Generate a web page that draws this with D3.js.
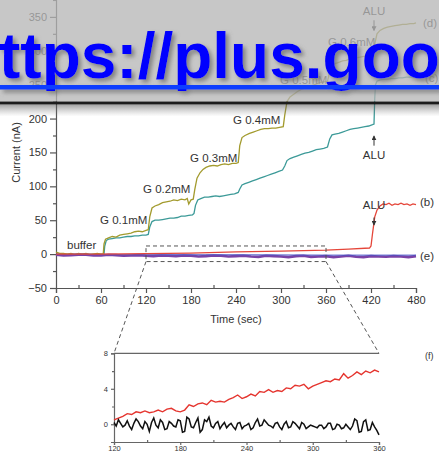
<!DOCTYPE html>
<html lang="en">
<head>
<meta charset="utf-8">
<title>Current vs time</title>
<script src="https://d3js.org/d3.v7.js"></script>
<style>
  body { margin: 0; background: #fff; }
  svg text { font-family: "Liberation Sans", Arial, sans-serif; fill: #333; }
</style>
</head>
<body>
<div id="chart"></div>
<script>
// ---- data ----
// main panel, time (sec) / current (nA)
const olive = [[0,3],[5,1],[10,1],[15,0],[20,1],[25,-1],[30,1],[35,0],[40,1],[45,-1],[50,0],[55,1],[60,0],[63,0],[64,15],[66,22],[70,24],[75,26],[80,25],[85,28],[90,29],[95,30],[100,31],[105,33],[110,34],[115,33],[120,35],[123,36],[125,55],[128,68],[132,71],[137,73],[142,76],[147,77],[152,78],[157,80],[162,79],[167,81],[172,80],[175,82],[177,74],[180,80],[183,81],[185,95],[188,112],[192,120],[196,125],[200,128],[205,130],[210,131],[215,130],[220,132],[225,133],[230,132],[235,134],[240,134],[243,135],[245,160],[248,172],[252,175],[258,178],[263,180],[268,182],[273,184],[278,185],[283,185],[288,186],[293,186],[298,187],[303,188],[305,205],[308,225],[312,232],[317,236],[322,240],[327,243],[332,245],[337,247],[342,249],[347,251],[352,253],[357,254],[362,255],[365,270],[368,278],[372,281],[377,283],[382,285],[387,286],[392,288],[397,289],[402,290],[407,291],[412,292],[417,292],[422,293],[425,310],[428,325],[432,330],[437,333],[442,335],[447,336],[452,337],[457,338],[462,339],[467,339],[472,340],[477,340],[480,341]];
const teal = [[0,0],[20,0],[40,0],[60,0],[64,0],[65,12],[67,20],[70,22],[75,23],[80,24],[85,24],[90,25],[95,26],[100,26],[105,27],[110,27],[115,28],[120,28],[123,29],[125,40],[128,48],[132,50],[137,50],[142,51],[147,52],[152,53],[157,53],[162,54],[167,56],[172,56],[177,57],[182,58],[184,60],[186,72],[189,80],[193,82],[198,84],[203,84],[208,85],[213,86],[218,85],[223,86],[228,87],[233,88],[238,89],[243,91],[245,96],[248,102],[252,104],[257,106],[262,108],[267,110],[272,112],[277,114],[282,116],[287,118],[292,120],[297,122],[302,124],[305,130],[308,138],[312,141],[317,143],[322,145],[327,147],[332,149],[337,150],[342,152],[347,154],[352,155],[357,156],[362,158],[365,170],[368,176],[372,177],[377,178],[382,180],[387,182],[392,184],[397,185],[402,186],[407,187],[412,188],[417,189],[422,191],[424,192],[425,230],[426,250],[428,255],[432,257],[437,258],[442,258],[447,259],[452,259],[457,260],[462,260],[467,261],[472,261],[477,261],[480,262]];
const red = [[0,0],[60,0],[120,0.6],[180,1.5],[240,3.3],[300,4.5],[360,6],[390,7.5],[418,9],[420,12],[422,30],[425,55],[428,65],[432,71],[436,74],[440,73],[444,75],[448,72],[452,74],[456,73],[460,75],[464,73],[468,74],[472,72],[476,74],[480,73]];
const purple = [[0,-1],[10,-2],[20,-1.5],[30,-1],[40,-1],[50,-2],[60,-2],[70,-1],[80,-1.5],[90,-2.5],[100,-2],[110,-1.5],[120,-2.5],[130,-3],[140,-2],[150,-2.5],[160,-3],[170,-2],[180,-2.5],[190,-3.5],[200,-3],[210,-2],[220,-2.5],[230,-3.5],[240,-3],[250,-2.5],[260,-3.5],[270,-4],[280,-2.5],[290,-3],[300,-3.5],[310,-4.5],[320,-3],[330,-2.5],[340,-4],[350,-3.5],[360,-3],[370,-4.5],[380,-3.5],[390,-2.5],[400,-4],[410,-4.5],[420,-3],[430,-3.5],[440,-4],[450,-3],[460,-3.5],[470,-4.5],[480,-3]];
const blueLine = [[0,-0.5],[120,-1],[240,-1],[360,-1.5],[480,-1.5]];

// inset (f), 120-360 sec
const insetRedT = d3.range(120, 361, 4);
const insetRed = [0.5,0.7,0.9,1.2,1.1,1.4,1.3,1.5,1.3,1.4,1.6,1.4,1.7,1.8,1.5,1.4,1.6,2.2,2.0,2.3,2.4,2.2,2.7,2.5,2.6,2.5,2.8,3.0,3.3,2.9,3.1,3.4,3.2,3.7,3.6,3.9,3.6,3.8,3.7,4.1,4.0,4.4,4.3,4.5,4.0,4.3,4.5,4.7,4.9,4.8,5.1,5.0,5.7,5.2,5.5,5.9,5.6,6.0,5.8,6.1,5.9];
const insetBlackT = d3.range(120, 361, 2);
const insetBlack = [0.2,-0.2,0.5,0.1,-0.3,-0.1,0.4,-0.2,-0.6,0.1,0.6,0.3,-0.2,-0.5,0.3,0.0,-0.8,0.2,0.7,-0.1,-0.4,0.5,0.2,-0.6,-0.5,0.3,0.1,-0.2,-0.3,0.5,0.4,-0.9,-0.8,0.8,0.6,-0.3,-0.4,0.2,0.7,-0.9,-0.6,0.5,0.3,0.8,-0.2,-0.4,0.1,0.3,-0.5,-0.1,0.2,-0.4,-0.1,0.1,-0.3,-0.6,0.1,0.2,-0.5,-0.2,-0.1,0.1,-0.6,-0.4,0.2,0.6,-0.2,-0.1,0.5,0.2,-0.1,-0.2,-0.4,0.1,0.2,-0.3,-0.6,0.0,0.3,-0.4,-0.3,0.3,0.1,-0.2,-0.5,0.2,0.0,-0.5,-0.3,-0.1,-0.2,-0.3,-0.4,-0.1,-0.1,-0.5,-0.3,0.1,0.1,-0.6,-0.5,0.0,-0.1,-0.5,-0.4,0.0,-0.3,-0.6,-0.2,0.6,0.4,-0.9,-0.8,0.3,0.5,-0.7,-0.6,0.2,-0.3,-0.7,-1.2];

const xTicks = [0, 60, 120, 180, 240, 300, 360, 420, 480];
const yTicks = [-50, 0, 50, 100, 150, 200, 250, 300, 350];
const insetXTicks = [120, 180, 240, 300, 360];
const insetYTicks = [0, 4, 8];

// annotations: text, time, current (baseline)
const labels = [
  ["buffer", 14.7, 7.4, "start"],
  ["G 0.1mM", 58.7, 44, "start"],
  ["G 0.2mM", 116, 90, "start"],
  ["G 0.3mM", 178.7, 135.7, "start"],
  ["G 0.4mM", 236, 191.7, "start"],
  ["G 0.5mM", 298.7, 250.7, "start"],
  ["G 0.6mM", 362.7, 306.8, "start"],
  ["ALU", 424, 352.5, "middle"],
  ["ALU", 424, 140, "middle"],
  ["ALU", 424, 66.4, "middle"],
  ["(d)", 489.3, 334.8, "start"],
  ["(c)", 492, 253.7, "start"],
  ["(b)", 485.3, 70.8, "start"],
  ["(e)", 485.3, -8.8, "start"]
];
// arrows: time, from, to (current)
const arrows = [[424, 345, 330], [424, 160, 174], [424, 54, 43]];
// zoom box
const boxT = [120, 360], boxV = [-11, 12];

// ---- layout ----
const W = 439, H = 454;
const svg = d3.select("#chart").append("svg")
  .attr("width", W).attr("height", H);

const x = d3.scaleLinear().domain([0, 480]).range([56, 416]);
const y = d3.scaleLinear().domain([-50, 400]).range([288, -17]);

// axes
svg.append("g").attr("transform", `translate(0,${y(-50)})`)
  .call(d3.axisBottom(x).tickValues(xTicks).tickSize(5).tickPadding(3));
svg.append("g").attr("transform", `translate(0,${y(-50)})`)
  .call(d3.axisBottom(x).tickValues(d3.range(30, 480, 60)).tickSize(-3).tickFormat(""))
  .select(".domain").remove();
svg.append("g").attr("transform", `translate(${x(0)},0)`)
  .call(d3.axisLeft(y).tickValues(yTicks).tickSize(6).tickPadding(3));
svg.append("g").attr("transform", `translate(${x(0)},0)`)
  .call(d3.axisLeft(y).tickValues(d3.range(-25, 400, 50)).tickSize(3).tickFormat(""))
  .select(".domain").remove();
svg.selectAll(".domain, .tick line").attr("stroke", "#555").attr("stroke-width", 1.2);
svg.selectAll(".tick text").style("font-size", "11px").attr("fill", "#333");

svg.append("text").attr("x", x(240)).attr("y", 323).attr("text-anchor", "middle")
  .style("font-size", "11px").text("Time (sec)");
svg.append("text").attr("transform", `translate(20,${y(150)}) rotate(-90)`)
  .attr("text-anchor", "middle").style("font-size", "11px").text("Current (nA)");

const line = d3.line().x(d => x(d[0])).y(d => y(d[1]));

svg.append("path").datum(teal).attr("d", line).attr("fill", "none")
  .attr("stroke", "#3c9a98").attr("stroke-width", 1.3);
svg.append("path").datum(olive).attr("d", line).attr("fill", "none")
  .attr("stroke", "#a39b2e").attr("stroke-width", 1.3);
svg.append("path").datum(purple).attr("d", line).attr("fill", "none")
  .attr("stroke", "#7a42a6").attr("stroke-width", 2.6);
svg.append("path").datum(blueLine).attr("d", line).attr("fill", "none")
  .attr("stroke", "#4a55c8").attr("stroke-width", 1);
svg.append("path").datum(red).attr("d", line).attr("fill", "none")
  .attr("stroke", "#e5463a").attr("stroke-width", 1.3);

// annotations
svg.append("g").selectAll("text").data(labels).join("text")
  .attr("x", d => x(d[1])).attr("y", d => y(d[2]))
  .attr("text-anchor", d => d[3])
  .style("font-size", "11.5px").text(d => d[0]);

svg.append("defs").append("marker").attr("id", "ah")
  .attr("viewBox", "0 0 6 6").attr("refX", 5).attr("refY", 3)
  .attr("markerWidth", 5).attr("markerHeight", 5).attr("orient", "auto")
  .append("path").attr("d", "M0,0L6,3L0,6Z").attr("fill", "#333");
svg.append("g").selectAll("line").data(arrows).join("line")
  .attr("x1", d => x(d[0])).attr("x2", d => x(d[0]))
  .attr("y1", d => y(d[1])).attr("y2", d => y(d[2]))
  .attr("stroke", "#333").attr("stroke-width", 1)
  .attr("marker-end", "url(#ah)");

// zoom box + inset
const xi = d3.scaleLinear().domain([120, 360]).range([114, 379]);
const yi = d3.scaleLinear().domain([-2, 8]).range([442, 353.3]);

const dash = g => g.attr("stroke", "#555").attr("stroke-width", 1)
  .attr("stroke-dasharray", "4,3").attr("fill", "none");
svg.append("rect").attr("x", x(boxT[0])).attr("y", y(boxV[1]))
  .attr("width", x(boxT[1]) - x(boxT[0])).attr("height", y(boxV[0]) - y(boxV[1]))
  .call(dash);
svg.append("line").attr("x1", x(boxT[0])).attr("y1", y(boxV[0]))
  .attr("x2", xi(120)).attr("y2", yi(8)).call(dash);
svg.append("line").attr("x1", x(boxT[1])).attr("y1", y(boxV[0]))
  .attr("x2", xi(360)).attr("y2", yi(8)).call(dash);

const inset = svg.append("g").attr("class", "inset");
inset.append("line").attr("x1", xi(120)).attr("x2", xi(360))
  .attr("y1", yi(8)).attr("y2", yi(8)).attr("stroke", "#666").attr("stroke-width", 1.2);
inset.append("g").attr("transform", `translate(0,${yi(-2)})`)
  .call(d3.axisBottom(xi).tickValues(insetXTicks).tickSize(3).tickPadding(1));
inset.append("g").attr("transform", `translate(0,${yi(-2)})`)
  .call(d3.axisBottom(xi).tickValues(d3.range(150, 360, 60)).tickSize(-2).tickFormat(""))
  .select(".domain").remove();
inset.append("g").attr("transform", `translate(${xi(120)},0)`)
  .call(d3.axisLeft(yi).tickValues(insetYTicks).tickSize(3).tickPadding(3));
inset.append("g").attr("transform", `translate(${xi(120)},0)`)
  .call(d3.axisLeft(yi).tickValues([-2, 2, 6]).tickSize(2).tickFormat(""))
  .select(".domain").remove();
inset.selectAll(".domain, .tick line").attr("stroke", "#666").attr("stroke-width", 1.2);
inset.selectAll(".tick text").style("font-size", "7.5px").attr("fill", "#333");

inset.append("path").datum(insetRed)
  .attr("d", d3.line().x((d, i) => xi(insetRedT[i])).y(d => yi(d)))
  .attr("fill", "none").attr("stroke", "#e5352f").attr("stroke-width", 1.4);
inset.append("path").datum(insetBlack)
  .attr("d", d3.line().x((d, i) => xi(insetBlackT[i])).y(d => yi(d)))
  .attr("fill", "none").attr("stroke", "#111").attr("stroke-width", 1.5);
svg.append("text").attr("x", 425).attr("y", 359).style("font-size", "9px").text("(f)");

// ---- grey banner with link on top ----
const defs = svg.select("defs");
const grad = defs.append("linearGradient").attr("id", "shade")
  .attr("x1", 0).attr("x2", 0).attr("y1", 0).attr("y2", 1);
grad.append("stop").attr("offset", "0%").attr("stop-color", "#555").attr("stop-opacity", 0.55);
grad.append("stop").attr("offset", "100%").attr("stop-color", "#888").attr("stop-opacity", 0);
const flt = defs.append("filter").attr("id", "tshadow")
  .attr("x", "-5%").attr("y", "-20%").attr("width", "115%").attr("height", "150%");
flt.append("feDropShadow").attr("dx", 3).attr("dy", 3).attr("stdDeviation", 2)
  .attr("flood-color", "#666").attr("flood-opacity", 0.7);

svg.append("rect").attr("x", 0).attr("y", 0).attr("width", W).attr("height", 101.5)
  .attr("fill", "rgb(182,182,182)").attr("fill-opacity", 0.76);
svg.append("rect").attr("x", 0).attr("y", 104.5).attr("width", W).attr("height", 12)
  .attr("fill", "url(#shade)");
svg.append("rect").attr("x", 0).attr("y", 101.5).attr("width", W).attr("height", 3)
  .attr("fill", "#1c1c1c");
const link = svg.append("g").attr("filter", "url(#tshadow)");
link.append("text").attr("x", -1).attr("y", 78)
  .style("font-size", "64px").style("font-weight", "bold")
  .style("fill", "#0000ff").text("ttps://plus.goo");
link.append("rect").attr("x", 0).attr("y", 85).attr("width", W).attr("height", 4.5)
  .attr("fill", "#0a3cff");
</script>
</body>
</html>
